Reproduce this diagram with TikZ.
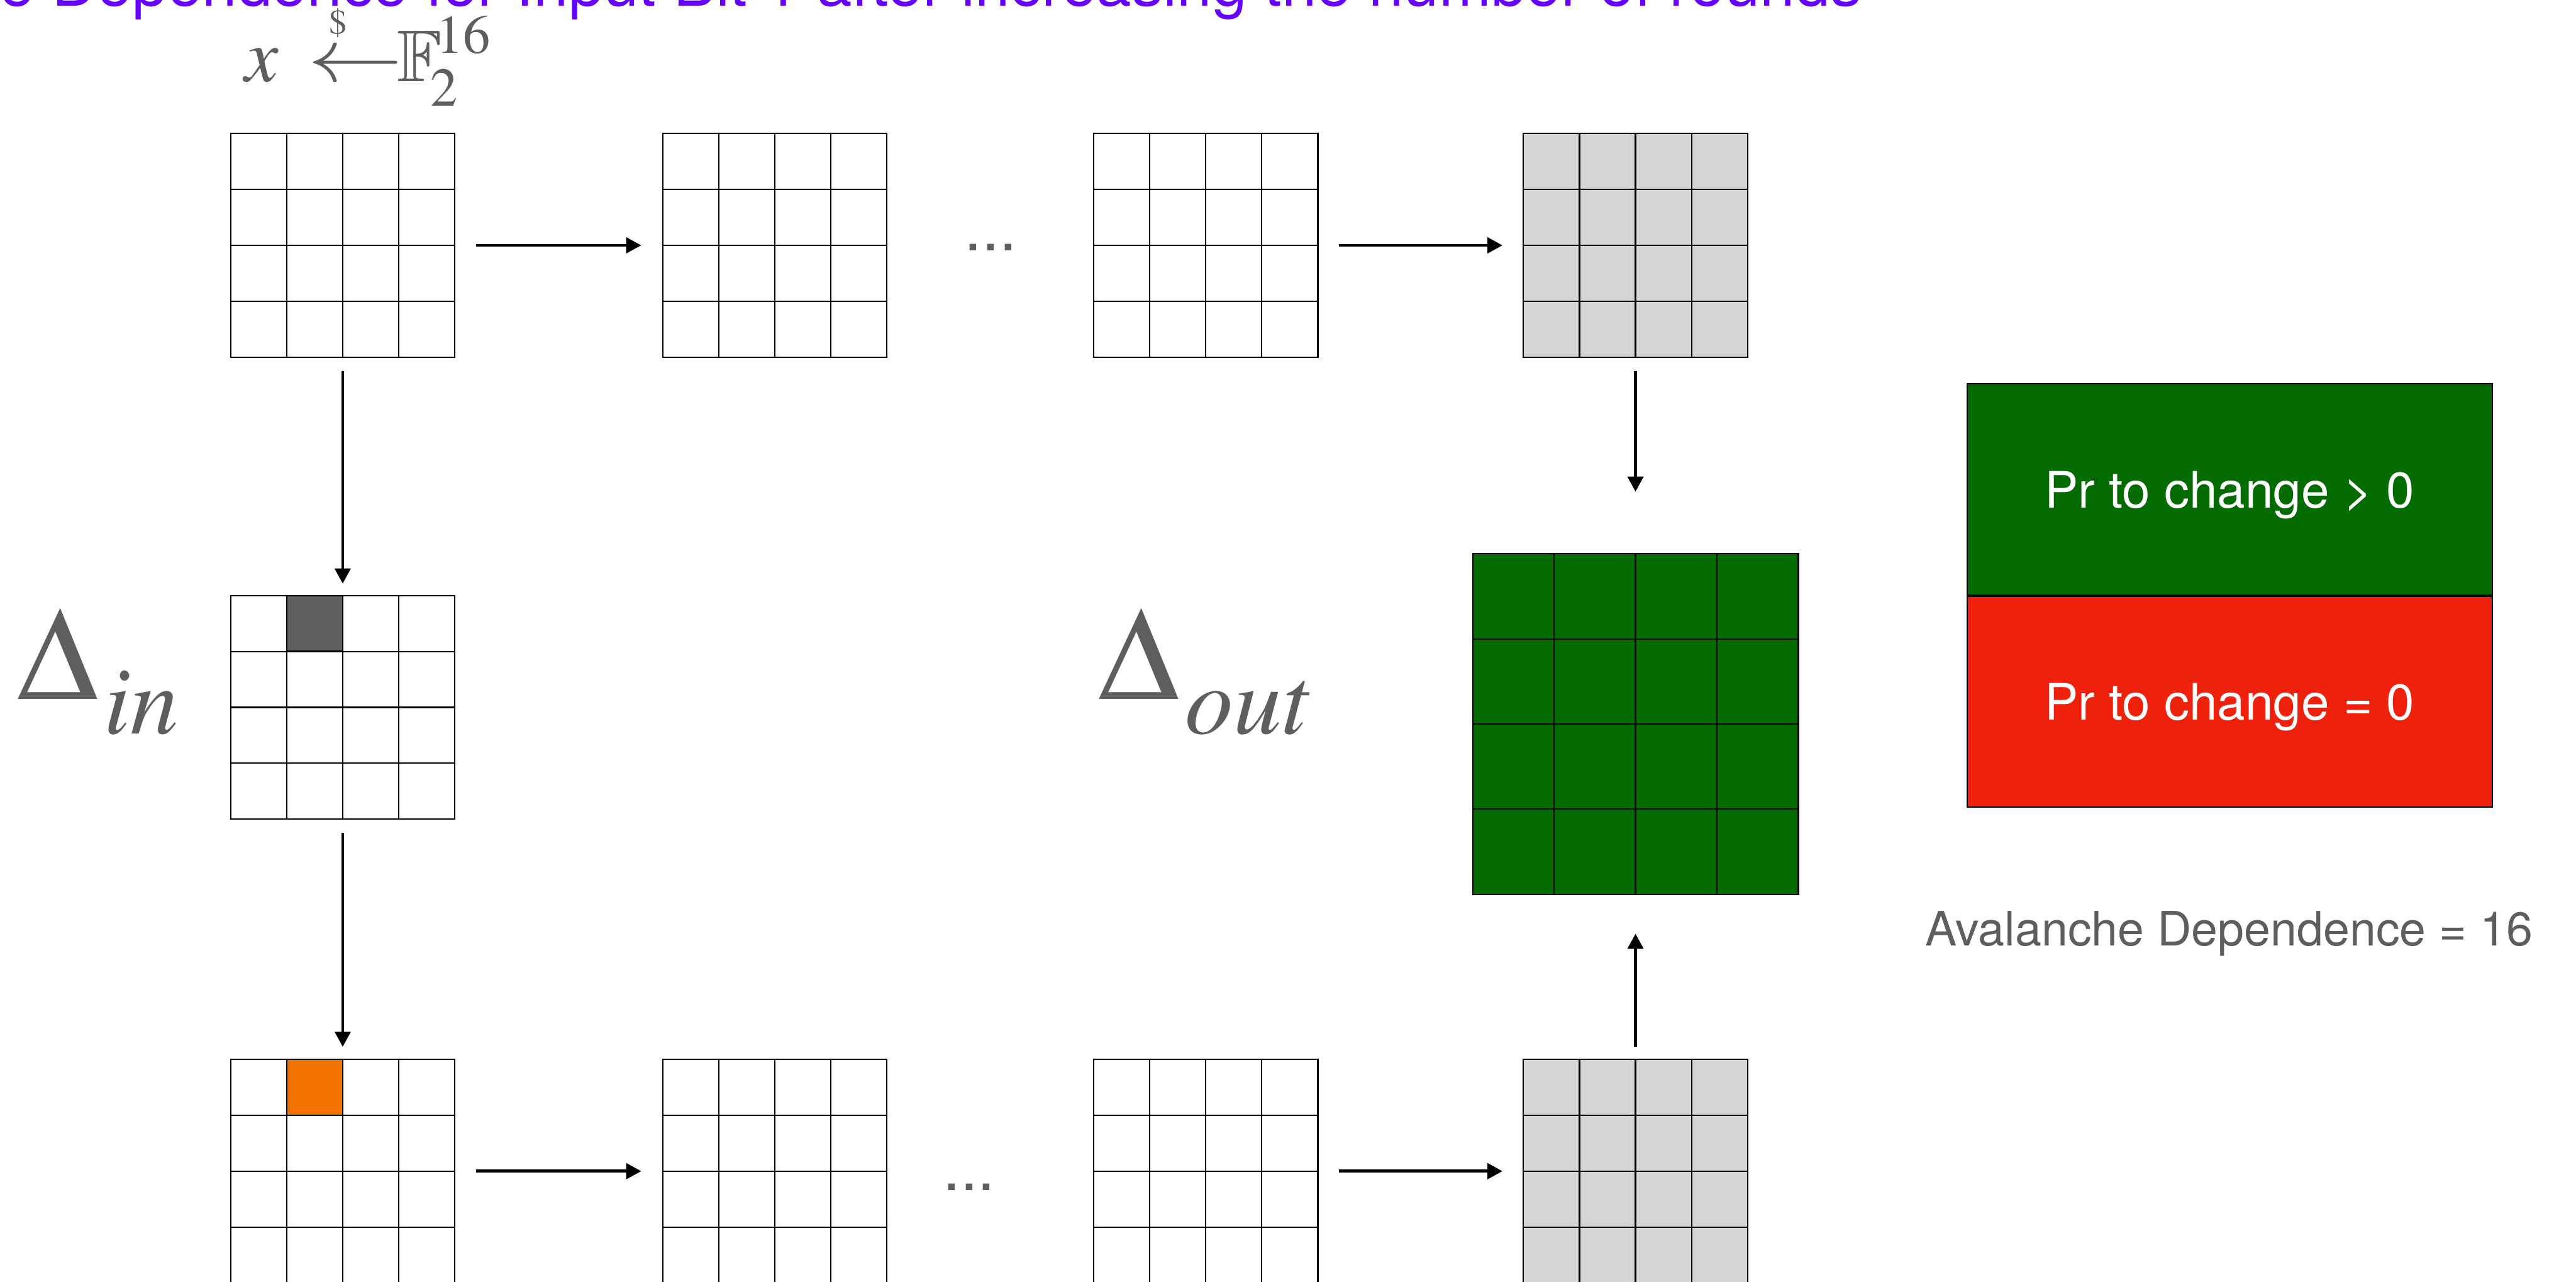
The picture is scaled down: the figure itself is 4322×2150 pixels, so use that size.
\documentclass[tikz,border=0pt]{standalone}
\usepackage{amssymb}
\usepackage{mathptmx}
\usepackage[no-math]{fontspec}
\setmainfont{TeX Gyre Heros}
\usetikzlibrary{calc,positioning,arrows.meta}
\definecolor{TitlePurple}{HTML}{6500FF}
\definecolor{LabelGray}{HTML}{5E5E5E}
\definecolor{CellGray}{HTML}{D5D5D5}
\definecolor{CellOrange}{HTML}{F27200}
\definecolor{DepGreen}{HTML}{036B00}
\definecolor{DepRed}{HTML}{EE220C}

\tikzset{
  state/.style={draw=black, line width=0.65pt, minimum width=3.76cm, minimum height=3.75cm, inner sep=0pt, outer sep=0pt},
  gridline/.style={draw=black, line width=0.65pt},
  flow/.style={-{Triangle[length=7.2pt,width=7.4pt]}, line width=1.45pt},
  dots/.style={text=LabelGray, font=\fontsize{30}{30}\selectfont, inner sep=0pt, anchor=base},
  mathlbl/.style={inner sep=0pt, text=LabelGray, font=\fontsize{#1}{#1}\selectfont},
  delta/.style={anchor=base west, mathlbl=63},
  legend/.style={draw=black, line width=0.6pt, minimum width=8.81cm, minimum height=3.535cm, text=white, text depth=0pt, font=\fontsize{24}{24}\selectfont, inner sep=0pt}
}

\newcommand\stategrid[3][]{%
  \node[state,#1] (#2) at (#3) {};
  \foreach \k in {1,2,3} {
    \draw[gridline] ($(#2.north west)!\k/4!(#2.north east)$) -- ($(#2.south west)!\k/4!(#2.south east)$);
    \draw[gridline] ($(#2.north west)!\k/4!(#2.south west)$) -- ($(#2.north east)!\k/4!(#2.south east)$);
  }%
}
\newcommand\deltasub[1]{$\Delta$\hspace{0.1cm}\raisebox{-0.58cm}{\fontsize{46}{46}\selectfont$\mathit{#1}$}}

\begin{document}
\begin{tikzpicture}[x=0.01cm, y=-0.01cm]
  \path[use as bounding box, fill=white] (0,0) rectangle (4322,2150);

  \node[anchor=base east, inner sep=0pt, text=TitlePurple, font=\fontsize{30}{30}\selectfont] (title) at (3124,10) {e Dependence for Input Bit 1 after increasing the number of rounds};

  % x <-$- F_2^16
  \node[anchor=base west, mathlbl=36] (xvar) at (410,137) {$x$};
  \node[anchor=base west, mathlbl=36] (draw) at (516,137) {\scalebox{1.26}[1]{$\leftarrow$}};
  \node[anchor=base, mathlbl=17] (rnd) at (567,57) {$\$$};
  \node[anchor=base west, mathlbl=35] (field) at (666,137) {$\mathbb{F}$};
  \node[anchor=base west, mathlbl=26] (fexp) at (731,89) {$16$};
  \node[anchor=base west, mathlbl=26] (fsub) at (722,178) {$2$};

  \stategrid{s11}{575,411.5}
  \stategrid{s12}{1300,411.5}
  \stategrid{s13}{2023,411.5}
  \stategrid[fill=CellGray]{s14}{2744,411.5}
  \stategrid{sin}{575,1186.5}
  \stategrid{s21}{575,1964.5}
  \stategrid{s22}{1300,1964.5}
  \stategrid{s23}{2023,1964.5}
  \stategrid[fill=CellGray]{s24}{2744,1964.5}
  \stategrid[fill=DepGreen, minimum width=5.46cm, minimum height=5.71cm]{sout}{2744,1214.5}

  \filldraw[gridline, fill=LabelGray] ($(sin.north west)!0.25!(sin.north east)$) rectangle ($(sin.north west)!0.5!(sin.north east)+(0,93.75)$);
  \filldraw[gridline, fill=CellOrange] ($(s21.north west)!0.25!(s21.north east)$) rectangle ($(s21.north west)!0.5!(s21.north east)+(0,93.75)$);

  \node[delta] (lbin) at (28,1173) {\deltasub{in}};
  \node[delta] (lbout) at (1842,1173) {\deltasub{out}};

  \node[dots] (gap1) at (1662,420) {...};
  \node[dots] (gap2) at (1626,1997) {...};

  \draw[flow, shorten <=0.36cm, shorten >=0.36cm] (s11) -- (s12);
  \draw[flow, shorten <=0.35cm, shorten >=0.35cm] (s13) -- (s14);
  \draw[flow, shorten <=0.36cm, shorten >=0.36cm] (s21) -- (s22);
  \draw[flow, shorten <=0.35cm, shorten >=0.35cm] (s23) -- (s24);
  \draw[flow, shorten <=0.23cm, shorten >=0.2cm] (s11) -- (sin);
  \draw[flow, shorten <=0.23cm, shorten >=0.21cm] (sin) -- (s21);
  \draw[flow, shorten <=0.23cm, shorten >=1.04cm] (s14) -- (sout);
  \draw[flow, shorten <=0.21cm, shorten >=0.66cm] (s24) -- (sout);

  \node[legend, fill=DepGreen, anchor=north west] (pos) at (3299,643) {Pr to change > 0};
  \node[legend, fill=DepRed, below=0pt of pos] (zero) {Pr to change = 0};
  \node[anchor=base, inner sep=0pt, text=LabelGray, font=\fontsize{22.6}{22.6}\selectfont] (adep) at (3740,1586) {Avalanche Dependence = 16};
\end{tikzpicture}
\end{document}
